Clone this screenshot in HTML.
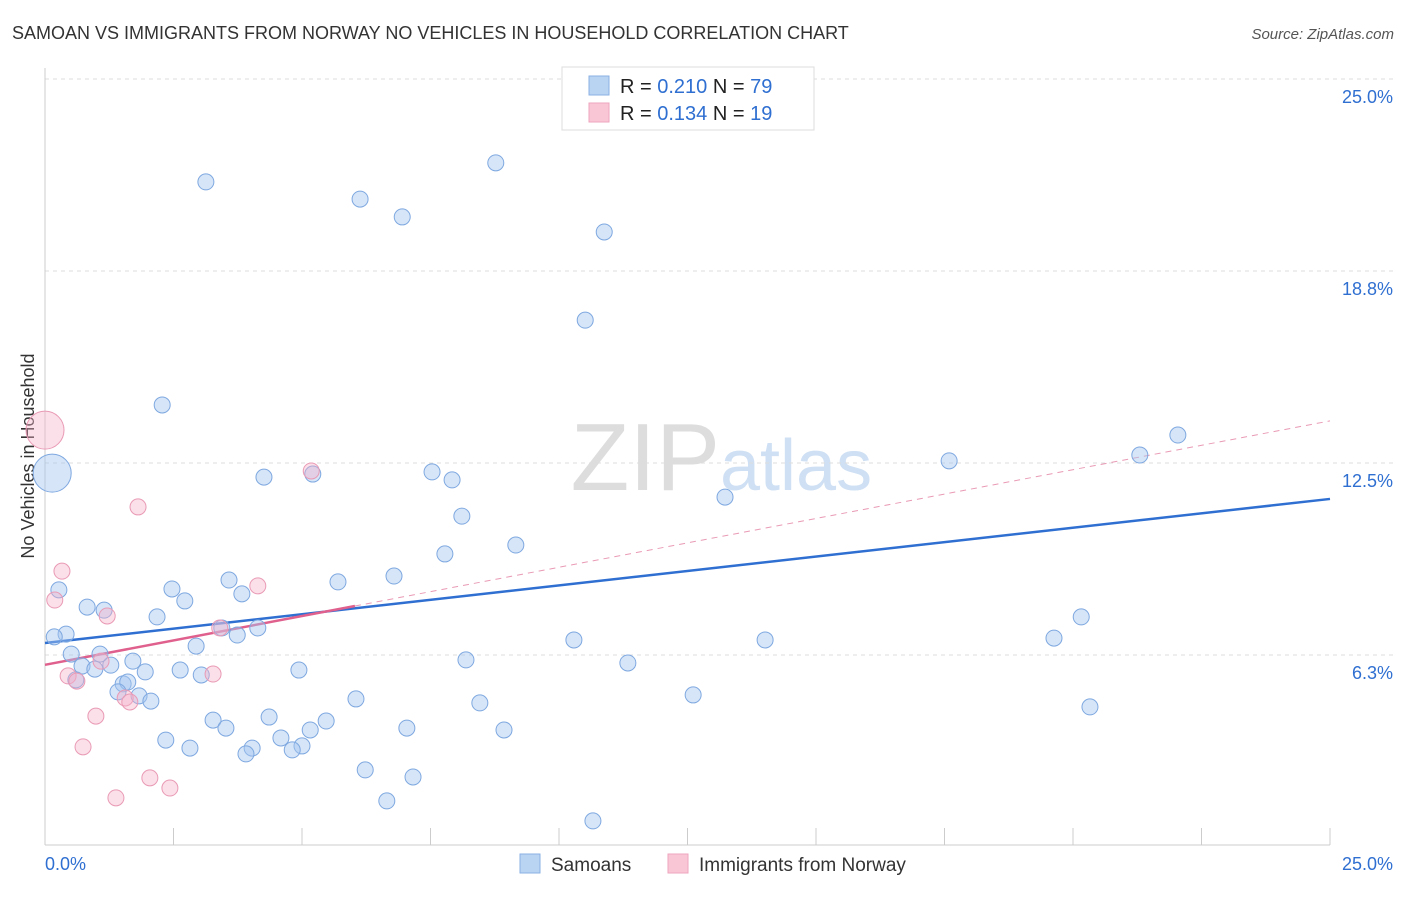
<!DOCTYPE html>
<html><head><meta charset="utf-8"><style>
body{margin:0;background:#fff;font-family:"Liberation Sans",sans-serif;}
svg text{font-family:"Liberation Sans",sans-serif;}
</style></head><body>
<svg id="chart" width="1406" height="892">
<text x="12" y="39" font-size="18" fill="#333">SAMOAN VS IMMIGRANTS FROM NORWAY NO VEHICLES IN HOUSEHOLD CORRELATION CHART</text>
<text x="1394" y="39" font-size="15" fill="#555" text-anchor="end" font-style="italic">Source: ZipAtlas.com</text>
<text x="720" y="490" font-size="96" fill="#ddd" text-anchor="end" font-family="Liberation Serif">ZIP</text>
<text x="720" y="490" font-size="72" fill="#cfe0f4">atlas</text>
<text transform="translate(34,456) rotate(-90)" font-size="18" fill="#333" text-anchor="middle">No Vehicles in Household</text>
<g id="grid"></g><g id="axes"></g><g id="trend"></g><g id="pts"></g>
<g>
<rect x="562" y="67" width="252" height="63" fill="#fff" stroke="#ddd"/>
<rect x="589" y="76" width="20" height="19" fill="#b9d3f3" stroke="#8ab0e4"/>
<rect x="589" y="103" width="20" height="19" fill="#f9c6d6" stroke="#eea5bf"/>
<text x="620" y="93" font-size="20" fill="#222">R = <tspan fill="#2f6fd1">0.210</tspan>   N = <tspan fill="#2f6fd1">79</tspan></text>
<text x="620" y="120" font-size="20" fill="#222">R = <tspan fill="#2f6fd1">0.134</tspan>   N = <tspan fill="#2f6fd1"> 19</tspan></text>
</g>
<g>
<rect x="520" y="854" width="20" height="19" fill="#b9d3f3" stroke="#8ab0e4"/>
<text x="551" y="871" font-size="19" fill="#333">Samoans</text>
<rect x="668" y="854" width="20" height="19" fill="#f9c6d6" stroke="#eea5bf"/>
<text x="699" y="871" font-size="19" fill="#333">Immigrants from Norway</text>
</g>
</svg>
<script>
const yTicks=[25,18.75,12.5,6.25];
const yTickLabels=["25.0%","18.8%","12.5%","6.3%"];
const xTickLabels=["0.0%","25.0%"];
const blueX=[3.13,8.77,6.13,6.95,10.88,10.51,2.28,22.04,21.30,17.59,4.26,5.21,7.53,7.92,8.11,13.23,9.16,7.78,6.79,5.70,3.58,2.47,3.83,2.72,0.27,0.82,1.15,2.18,20.16,4.14,3.44,3.74,0.41,0.18,10.29,14.01,19.63,2.94,0.51,1.07,8.19,11.34,0.72,0.97,1.28,1.71,1.95,2.63,3.04,4.94,0.60,1.52,1.61,1.42,1.83,2.06,6.05,12.61,8.46,20.33,3.27,4.36,5.47,3.52,5.16,7.04,8.93,2.35,4.59,2.82,4.03,5.00,4.81,3.91,6.23,7.16,6.65,10.66,0.14];
const blueY=[21.65,22.27,21.09,20.51,20.02,17.15,14.39,13.41,12.76,12.57,12.04,12.14,12.21,11.95,10.77,11.39,9.83,9.54,8.82,8.63,8.69,8.40,8.24,8.01,8.37,7.81,7.71,7.49,7.49,7.13,7.13,6.90,6.93,6.84,6.74,6.74,6.80,6.54,6.28,6.28,6.09,5.99,5.89,5.79,5.92,6.05,5.70,5.76,5.60,5.76,5.44,5.31,5.37,5.05,4.92,4.75,4.82,4.95,4.69,4.56,4.13,4.23,4.10,3.87,3.81,3.87,3.81,3.48,3.55,3.22,3.22,3.29,3.16,3.03,2.51,2.28,1.50,0.85,12.17];
const pinkX=[0,1.81,0.33,0.19,1.21,5.18,4.14,3.40,1.09,0.45,0.62,3.27,1.56,1.65,0.99,0.74,2.04,2.43,1.38];
const pinkY=[13.57,11.07,8.98,8.04,7.52,12.24,8.50,7.13,6.05,5.57,5.40,5.63,4.85,4.72,4.26,3.26,2.25,1.92,1.60];
const blueTrend=[6.64,11.33];
const pinkTrend=[5.93,13.87];
const pinkSolidEnd=6.03;

const NS="http://www.w3.org/2000/svg";
const sx=v=>45+v*51.4, sy=v=>847-v*30.72;
function mk(t,a,p){const e=document.createElementNS(NS,t);for(const k in a)e.setAttribute(k,a[k]);p.appendChild(e);return e;}
const grid=document.getElementById('grid'),axes=document.getElementById('axes'),trend=document.getElementById('trend'),pts=document.getElementById('pts');
yTicks.forEach((t,i)=>{
 const l=mk('line',{x1:45,x2:1393,y1:sy(t),y2:sy(t),stroke:'#ddd','stroke-dasharray':'4,4'},grid);
 
 
 const tx=mk('text',{x:1393,y:sy(t)+24,'font-size':18,fill:'#2f6fd1','text-anchor':'end'},axes);
 tx.textContent=yTickLabels[i];
 
 
});
mk('line',{x1:45,x2:45,y1:68,y2:845,stroke:'#ccc'},axes);
mk('line',{x1:45,x2:1330,y1:845,y2:845,stroke:'#ccc'},axes);
for(let i=0;i<=10;i++){mk('line',{x1:sx(i*2.5),x2:sx(i*2.5),y1:828,y2:845,stroke:'#ccc'},axes);}
const xl0=mk('text',{x:45,y:870,'font-size':18,fill:'#2f6fd1'},axes);xl0.textContent=xTickLabels[0];


const xl1=mk('text',{x:1393,y:870,'font-size':18,fill:'#2f6fd1','text-anchor':'end'},axes);xl1.textContent=xTickLabels[1];


function dots(X,Y,fill,stroke,name){X.forEach((x,i)=>{
 const big=(name==='samoan-point'&&i===X.length-1)||(name==='norway-point'&&i===0);
 const c=mk('circle',{cx:sx(x),cy:sy(Y[i]),r:big?19:8,fill:fill,stroke:stroke,'stroke-width':1},pts);
 
 
});}
dots(blueX,blueY,'rgba(164,198,240,0.45)','#7ea8e0','samoan-point');
dots(pinkX,pinkY,'rgba(246,176,200,0.4)','#e99ab5','norway-point');
const bl=mk('line',{x1:sx(0),y1:sy(blueTrend[0]),x2:sx(25),y2:sy(blueTrend[1]),stroke:'#2f6fd1','stroke-width':2.5},trend);


const pe=v=>pinkTrend[0]+(pinkTrend[1]-pinkTrend[0])*v/25;
const pd=mk('line',{x1:sx(pinkSolidEnd),y1:sy(pe(pinkSolidEnd)),x2:sx(25),y2:sy(pinkTrend[1]),stroke:'#e99ab5','stroke-width':1,'stroke-dasharray':'6,5'},trend);


const ps=mk('line',{x1:sx(0),y1:sy(pinkTrend[0]),x2:sx(pinkSolidEnd),y2:sy(pe(pinkSolidEnd)),stroke:'#e0608d','stroke-width':2.5},trend);


</script>
</body></html>
